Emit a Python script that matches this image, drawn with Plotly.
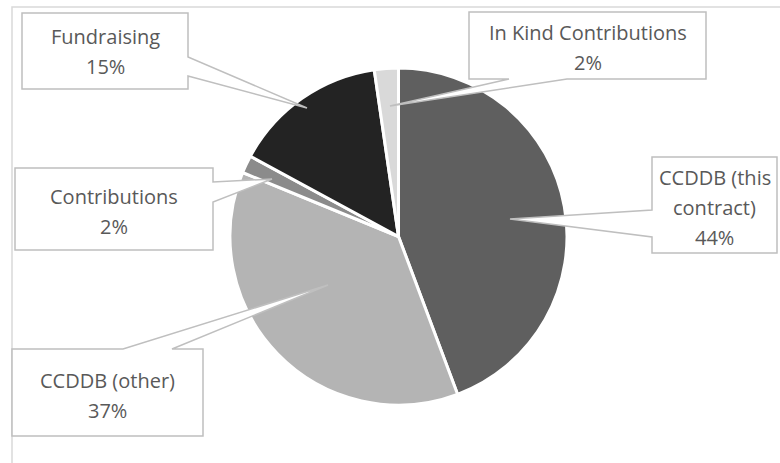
import plotly.graph_objects as go

# ---- data ----
categories = ["CCDDB (this contract)", "CCDDB (other)", "Contributions", "Fundraising", "In Kind Contributions"]
values = [44.3, 36.9, 1.7, 14.8, 2.3]
label_lines = [["CCDDB (this", "contract)"], ["CCDDB (other)"], ["Contributions"], ["Fundraising"], ["In Kind Contributions"]]
slice_colors = ["#5f5f5f", "#b4b4b4", "#8b8b8b", "#232323", "#d9d9d9"]

# ---- layout of callouts (pixel coords: box x0,y0,x1,y1 ; side ; gap ; tip ; first line y) ----
callouts = [
    dict(box=(652, 157, 777, 253), side="left", gap=(210, 237), tip=(510, 219), y0=177),
    dict(box=(12, 349, 203, 436), side="top", gap=(123, 172), tip=(328, 285), y0=380),
    dict(box=(15, 168, 213, 250), side="right", gap=(182, 202), tip=(272, 179), y0=196),
    dict(box=(22, 13, 188, 89), side="right", gap=(57, 76), tip=(307, 108), y0=36),
    dict(box=(469, 12, 706, 79), side="bottom", gap=(509, 567), tip=(390, 106), y0=32),
]
W, H = 780, 463
LINE_GAP = 30
FONT = "Open Sans"
FONT_SIZE = 20
TEXT_COLOR = "#595959"
BOX_LINE = "#bfbfbf"

fig = go.Figure()

# Pie centred at (398.5, 236.5) px with radius 168.5
cx, cy, r = 398.5, 236.5, 168.5
fig.add_trace(go.Pie(
    labels=categories, values=values, sort=False, direction="clockwise", rotation=0,
    marker=dict(colors=slice_colors, line=dict(color="white", width=3)),
    textinfo="none", hoverinfo="label+percent", showlegend=False,
    domain=dict(x=[(cx - r) / W, (cx + r) / W], y=[(H - cy - r) / H, (H - cy + r) / H]),
))

# invisible pixel-space axes for callouts
fig.update_xaxes(range=[0, W], visible=False, fixedrange=True)
fig.update_yaxes(range=[H, 0], visible=False, fixedrange=True)

shapes = []
# outer chart border (right/bottom outside view)
shapes.append(dict(type="rect", xref="x", yref="y", x0=12, y0=7, x1=W + 20, y1=H + 20,
                   line=dict(color="#d9d9d9", width=1.5), fillcolor="rgba(0,0,0,0)", layer="below"))


def callout_path(box, side, gap, tip):
    x0, y0, x1, y1 = box
    a, b = gap
    tx, ty = tip
    if side == "right":
        pts = [(x0, y0), (x1, y0), (x1, a), (tx, ty), (x1, b), (x1, y1), (x0, y1)]
    elif side == "left":
        pts = [(x0, y0), (x1, y0), (x1, y1), (x0, y1), (x0, b), (tx, ty), (x0, a)]
    elif side == "top":
        pts = [(x0, y0), (a, y0), (tx, ty), (b, y0), (x1, y0), (x1, y1), (x0, y1)]
    else:  # bottom
        pts = [(x0, y0), (x1, y0), (x1, y1), (b, y1), (tx, ty), (a, y1), (x0, y1)]
    return "M " + " L ".join(f"{x},{y}" for x, y in pts) + " Z"


total = sum(values)
annotations = []
for cat, lines, v, co in zip(categories, label_lines, values, callouts):
    shapes.append(dict(type="path", xref="x", yref="y", path=callout_path(co["box"], co["side"], co["gap"], co["tip"]),
                       fillcolor="white", line=dict(color=BOX_LINE, width=1.5), layer="above"))
    all_lines = lines + [f"{round(v / total * 100)}%"]
    xc = (co["box"][0] + co["box"][2]) / 2
    for i, t in enumerate(all_lines):
        annotations.append(dict(x=xc, y=co["y0"] + i * LINE_GAP, xref="x", yref="y", text=t, showarrow=False,
                                xanchor="center", yanchor="middle",
                                font=dict(family=FONT, size=FONT_SIZE, color=TEXT_COLOR)))

fig.update_layout(width=W, height=H, margin=dict(l=0, r=0, t=0, b=0),
                  paper_bgcolor="white", plot_bgcolor="white",
                  shapes=shapes, annotations=annotations)

fig.write_html("out.html")
